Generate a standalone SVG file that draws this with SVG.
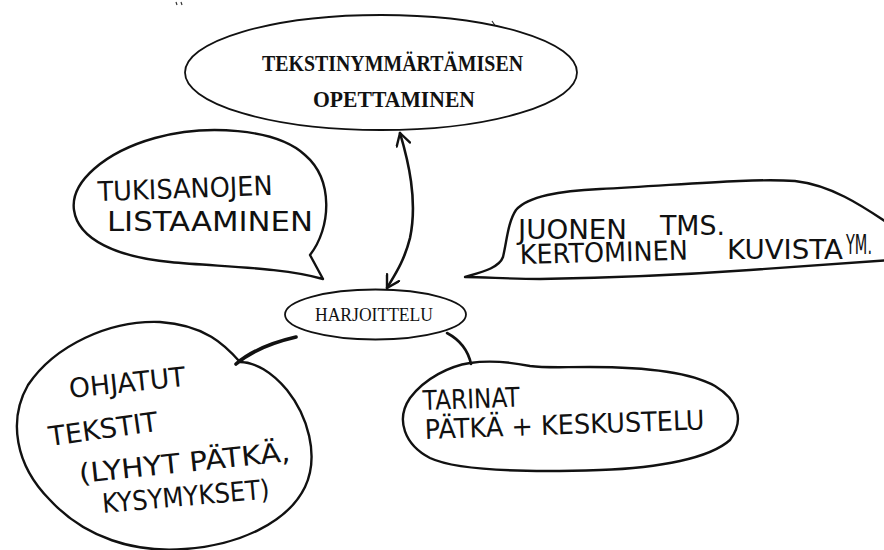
<svg xmlns="http://www.w3.org/2000/svg" width="884" height="550" viewBox="0 0 884 550">
  <style>
    .typed { fill: #fff; stroke: #111; stroke-width: 1.8; }
    .bubble { fill: #fff; stroke: #111; stroke-width: 2.4; stroke-linejoin: round; stroke-linecap: round; }
    .serif { font-family: "Liberation Serif", "Times New Roman", serif; fill: #111; }
    .hand { font-family: "DejaVu Sans", "Liberation Sans", sans-serif; fill: #111; font-size: 27px; }
    .conn { fill: none; stroke: #111; stroke-width: 2.6; stroke-linecap: round; stroke-linejoin: round; }
    .thick { stroke-width: 3.6; }
  </style>
  <defs>
    <marker id="head" viewBox="0 0 16 16" refX="14" refY="8" markerWidth="16" markerHeight="16" markerUnits="userSpaceOnUse" orient="auto-start-reverse">
      <path d="M2,1 L14,8 L2,15" fill="none" stroke="#111" stroke-width="2.4" stroke-linecap="round" stroke-linejoin="round"/>
    </marker>
  </defs>

  <rect width="884" height="550" fill="#fff"/>

  <!-- stray pen marks near the top edge -->
  <path d="M176,2 l1,3 M181,2 l1,3 M492,21 l4,6" stroke="#333" stroke-width="1.2" fill="none"/>

  <!-- main goal -->
  <g id="node-goal">
    <ellipse class="typed" cx="381" cy="72.5" rx="196" ry="57.5"/>
    <text class="serif" x="392.5" y="71" text-anchor="middle" font-weight="bold" font-size="23" textLength="261" lengthAdjust="spacingAndGlyphs">TEKSTINYMMÄRTÄMISEN</text>
    <text class="serif" x="394" y="107" text-anchor="middle" font-weight="bold" font-size="22.5" textLength="162" lengthAdjust="spacingAndGlyphs">OPETTAMINEN</text>
  </g>

  <!-- practice hub -->
  <g id="node-practice">
    <ellipse class="typed" cx="375.5" cy="314.5" rx="90.5" ry="25"/>
    <text class="serif" x="374" y="320.5" text-anchor="middle" font-size="19.5" textLength="118" lengthAdjust="spacingAndGlyphs">HARJOITTELU</text>
  </g>

  <!-- speech bubble, upper left -->
  <g id="node-keywords">
    <path class="bubble" d="M310,255 C331,228 334,180 305,155 C276,128 205,124 155,138 C105,152 70,182 74,210 C78,240 118,257 170,262 C220,267 282,267 323,279 Z"/>
    <text class="hand" x="98" y="201" font-size="30" textLength="175" lengthAdjust="spacingAndGlyphs" transform="rotate(-2 98 201)">TUKISANOJEN</text>
    <text class="hand" x="107" y="231" font-size="29" textLength="206" lengthAdjust="spacingAndGlyphs">LISTAAMINEN</text>
  </g>

  <!-- speech bubble, upper right (runs off the right edge) -->
  <g id="node-retelling">
    <path class="bubble" d="M465,277 C482,272 499,268 503,257 C507,240 508,222 516,210 C528,196 560,191 600,189 C680,185 750,178 795,181 C830,185 860,204 892,226 L892,260 C840,264 790,267 750,270 C680,275 600,278 540,279 C510,279 485,277 465,277 Z"/>
    <text class="hand" x="518" y="239" font-size="24" textLength="109" lengthAdjust="spacingAndGlyphs">JUONEN</text>
    <text class="hand" x="660" y="235" font-size="23" textLength="65" lengthAdjust="spacingAndGlyphs">TMS.</text>
    <text class="hand" x="520" y="264" font-size="24" textLength="168" lengthAdjust="spacingAndGlyphs" transform="rotate(-1.5 520 264)">KERTOMINEN</text>
    <text class="hand" x="727" y="259" font-size="24" textLength="116" lengthAdjust="spacingAndGlyphs">KUVISTA</text>
    <text class="hand" x="846" y="254" font-size="17" textLength="26" lengthAdjust="spacingAndGlyphs">YM.</text>
  </g>

  <!-- thought bubble, lower left -->
  <g id="node-guided">
    <path class="bubble" d="M240,362 C225,345 205,325 160,322 C110,320 55,345 28,385 C8,420 15,465 50,500 C85,538 135,553 185,549 C240,545 288,522 305,487 C320,455 307,415 287,390 C272,372 255,362 240,362 Z"/>
    <text class="hand" x="70" y="398" textLength="117" lengthAdjust="spacingAndGlyphs" transform="rotate(-6 70 398)">OHJATUT</text>
    <text class="hand" x="50" y="446" textLength="110" lengthAdjust="spacingAndGlyphs" transform="rotate(-8 50 446)">TEKSTIT</text>
    <text class="hand" x="80" y="483" textLength="212" lengthAdjust="spacingAndGlyphs" transform="rotate(-6 80 483)">(LYHYT PÄTKÄ,</text>
    <text class="hand" x="103" y="513" textLength="168" lengthAdjust="spacingAndGlyphs" transform="rotate(-5 103 513)">KYSYMYKSET)</text>
  </g>

  <!-- bubble, lower right -->
  <g id="node-stories">
    <path class="bubble" d="M470,363 C450,366 425,378 410,398 C395,420 405,445 430,458 C460,472 540,472 600,470 C660,468 710,458 730,440 C745,420 738,400 715,386 C690,372 640,367 590,367 C560,367 545,368 530,366 C510,362 490,360 470,363 Z"/>
    <text class="hand" x="423" y="410" font-size="25" textLength="97" lengthAdjust="spacingAndGlyphs" transform="rotate(-2 423 410)">TARINAT</text>
    <text class="hand" x="425" y="439" font-size="25" textLength="280" lengthAdjust="spacingAndGlyphs" transform="rotate(-2 425 439)">PÄTKÄ + KESKUSTELU</text>
  </g>

  <!-- links -->
  <g id="connectors">
    <path class="conn" d="M400,133 C408,160 418,200 410,238 C404,262 394,276 387,288" marker-start="url(#head)" marker-end="url(#head)"/>
    <path class="conn thick" d="M236,364 C250,352 270,343 296,337"/>
    <path class="conn" d="M447,333 C460,340 468,350 471,364"/>
  </g>
</svg>
